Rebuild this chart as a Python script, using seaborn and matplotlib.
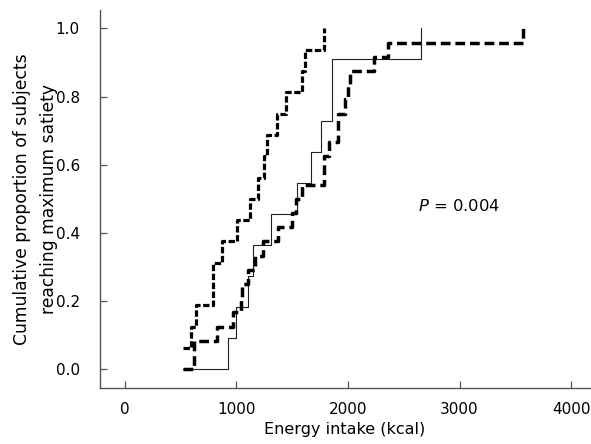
import numpy as np
import pandas as pd
import matplotlib
matplotlib.use("Agg")
import matplotlib.pyplot as plt
import seaborn as sns

# Energy intake (kcal) at which each subject reached maximum satiety
group_dotted = [521, 593, 635, 789, 789, 874, 1004, 1117, 1195, 1249, 1273,
                1361, 1444, 1588, 1617, 1782]
group_solid = [926, 994, 1100, 1151, 1309, 1540, 1665, 1755, 1852, 1852, 2652]
group_dashed = [622, 622, 822, 971, 1038, 1049, 1106, 1166, 1235, 1370, 1495,
                1534, 1585, 1785, 1785, 1832, 1913, 1913, 1973, 1996, 2018,
                2236, 2359, 3567]

x_ticks = [0, 1000, 2000, 3000, 4000]
y_ticks = [0.0, 0.2, 0.4, 0.6, 0.8, 1.0]
x_label = "Energy intake (kcal)"
y_label = "Cumulative proportion of subjects\nreaching maximum satiety"
p_text = r"$\mathit{P}$ = 0.004"

sns.set_theme(style="ticks")
plt.rcParams["font.family"] = ["DejaVu Sans"]
plt.rcParams["mathtext.fontset"] = "dejavusans"

start = min(min(group_dotted), min(group_solid), min(group_dashed))


def cumulative(events):
    ev = np.sort(np.asarray(events, dtype=float))
    xs = np.unique(np.r_[start, ev])
    ys = np.searchsorted(ev, xs, side="right") / len(ev)
    return pd.DataFrame({"energy": xs, "prop": ys})


fig = plt.figure(figsize=(5.91, 4.44), dpi=100)
ax = fig.add_axes([100 / 591, 1 - 388 / 444, 490 / 591, (388 - 10) / 444])

sns.lineplot(data=cumulative(group_solid), x="energy", y="prop", ax=ax,
             drawstyle="steps-post", estimator=None, sort=False,
             color="#222222", linewidth=0.8, linestyle="-")
sns.lineplot(data=cumulative(group_dashed), x="energy", y="prop", ax=ax,
             drawstyle="steps-post", estimator=None, sort=False,
             color="black", linewidth=2.5, linestyle=(0, (2.8, 1.4)))
sns.lineplot(data=cumulative(group_dotted), x="energy", y="prop", ax=ax,
             drawstyle="steps-post", estimator=None, sort=False,
             color="black", linewidth=2.3, linestyle=(0, (2.0, 0.8)))

ax.set_xlim(-224, 4170)
ax.set_ylim(-0.055, 1.054)
ax.set_xticks(x_ticks)
ax.set_yticks(y_ticks)
ax.set_xticklabels([str(v) for v in x_ticks])
ax.set_yticklabels([f"{v:.1f}" for v in y_ticks])

for side in ["top", "right"]:
    ax.spines[side].set_visible(False)
for side in ["left", "bottom"]:
    ax.spines[side].set_color("#555555")
    ax.spines[side].set_linewidth(1.0)

ax.tick_params(axis="both", direction="in", length=5, width=0.9,
               color="#555555", labelsize=11, labelcolor="black")
ax.tick_params(axis="y", pad=14.5)
ax.tick_params(axis="x", pad=10)

ax.set_xlabel(x_label, fontsize=11.5, color="black")
ax.set_ylabel(y_label, fontsize=12.3, color="black", linespacing=1.6)
ax.xaxis.set_label_coords(0.5, -0.09)
ax.yaxis.set_label_coords(-0.086, 0.5)

ax.text(2630, 0.48, p_text, fontsize=11.8, color="black", va="center", ha="left")

fig.savefig("out.png", dpi=100)
